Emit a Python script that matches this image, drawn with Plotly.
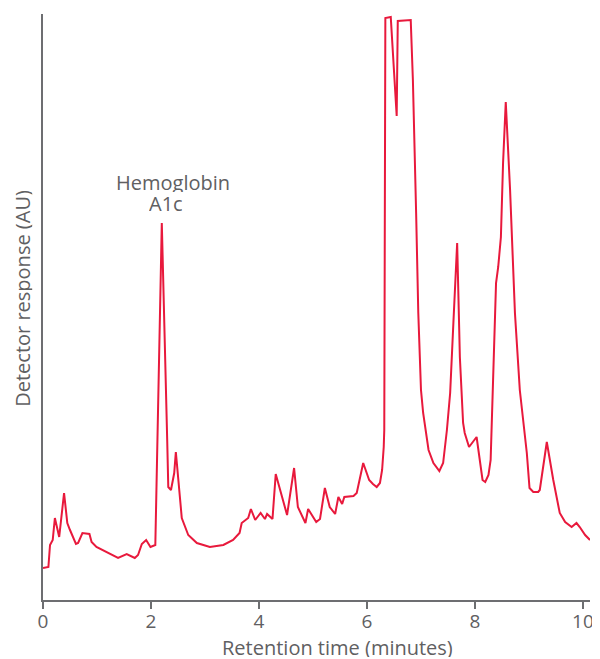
import plotly.graph_objects as go

# Retention time (minutes)
time_min = [0.00, 0.10, 0.13, 0.18, 0.22, 0.30, 0.39, 0.45, 0.50, 0.61, 0.65, 0.73, 0.86, 0.90, 0.99,
            1.24, 1.39, 1.55, 1.70, 1.76, 1.83, 1.91, 1.99, 2.08, 2.20, 2.30, 2.32, 2.37, 2.43, 2.46,
            2.57, 2.69, 2.85, 3.09, 3.34, 3.52, 3.64, 3.68, 3.80, 3.85, 3.93, 4.03, 4.11, 4.15, 4.25,
            4.31, 4.52, 4.65, 4.72, 4.86, 4.91, 5.06, 5.13, 5.22, 5.31, 5.41, 5.47, 5.54, 5.58, 5.75,
            5.81, 5.93, 6.04, 6.11, 6.18, 6.24, 6.28, 6.31, 6.32, 6.34, 6.44, 6.55, 6.57, 6.81, 6.85,
            6.91, 6.95, 7.00, 7.04, 7.14, 7.23, 7.34, 7.41, 7.48, 7.54, 7.60, 7.67, 7.72, 7.78, 7.81,
            7.89, 8.03, 8.09, 8.14, 8.19, 8.25, 8.29, 8.34, 8.39, 8.43, 8.48, 8.52, 8.57, 8.65, 8.74,
            8.83, 8.89, 8.96, 9.01, 9.08, 9.17, 9.20, 9.33, 9.45, 9.57, 9.67, 9.79, 9.88, 9.94, 10.04,
            10.13]

# Detector response (AU)
response = [32, 33, 55, 60, 82, 63, 107, 77, 70, 56, 57, 67, 66, 58, 53,
            46, 42, 46, 42, 45, 56, 60, 53, 55, 377, 160, 113, 110, 127, 148,
            82, 65, 57, 53, 55, 60, 67, 77, 82, 91, 80, 87, 81, 86, 81,
            126, 85, 132, 93, 77, 91, 78, 81, 112, 93, 86, 103, 96, 103, 104,
            107, 137, 120, 116, 113, 117, 130, 153, 170, 582, 583, 484, 579, 580, 520,
            387, 287, 210, 187, 150, 137, 129, 137, 170, 207, 277, 357, 243, 177, 167,
            153, 163, 140, 120, 118, 125, 140, 233, 317, 333, 363, 437, 498, 410, 287,
            210, 183, 147, 112, 108, 108, 110, 158, 120, 87, 78, 73, 77, 73, 65,
            60]

x_ticks = [0, 2, 4, 6, 8, 10]

line_color = "#e8193c"
axis_color = "#6d6e71"
text_color = "#5f6062"
font_family = "Open Sans, Roboto, sans-serif"
fs = 20

fig = go.Figure()
fig.add_trace(go.Scatter(x=time_min, y=response, mode="lines",
                         line=dict(color=line_color, width=2), hoverinfo="skip"))

fig.add_annotation(x=2.41, y=418, text="Hemoglobin", showarrow=False, height=20,
                   xanchor="center", yanchor="middle",
                   font=dict(size=fs, color=text_color, family=font_family))
fig.add_annotation(x=2.28, y=397, text="A1c", showarrow=False, height=20,
                   xanchor="center", yanchor="middle",
                   font=dict(size=fs, color=text_color, family=font_family))

# axis titles as annotations for exact placement
fig.add_annotation(xref="paper", yref="paper", x=0.538, y=0, yshift=-47, height=20,
                   text="Retention time (minutes)", showarrow=False,
                   xanchor="center", yanchor="middle",
                   font=dict(size=fs, color=text_color, family=font_family))
fig.add_annotation(xref="paper", yref="paper", x=0, y=0.514, xshift=-21, height=20,
                   text="Detector response (AU)", showarrow=False, textangle=-90,
                   xanchor="center", yanchor="middle",
                   font=dict(size=fs, color=text_color, family=font_family))

# page body has an 8px default margin; compensate so the plot lands at the right pixels
fig.update_layout(
    width=592, height=651,
    margin=dict(l=35, r=10, t=6, b=59),
    paper_bgcolor="white", plot_bgcolor="white",
    showlegend=False,
    font=dict(family=font_family, color=text_color, size=fs),
    xaxis=dict(range=[0, 10.13], tickvals=x_ticks, ticktext=[str(t) for t in x_ticks],
               showline=True, linecolor=axis_color, linewidth=1.5,
               ticks="outside", ticklen=7, tickcolor=axis_color, tickwidth=1.5,
               ticklabelstandoff=-4,
               showgrid=False, zeroline=False, automargin=False,
               tickfont=dict(size=19, color=text_color)),
    yaxis=dict(range=[0, 586], showline=True, linecolor=axis_color, linewidth=1.5,
               showticklabels=False, ticks="", showgrid=False, zeroline=False,
               automargin=False),
)

fig.write_html("out.html")
